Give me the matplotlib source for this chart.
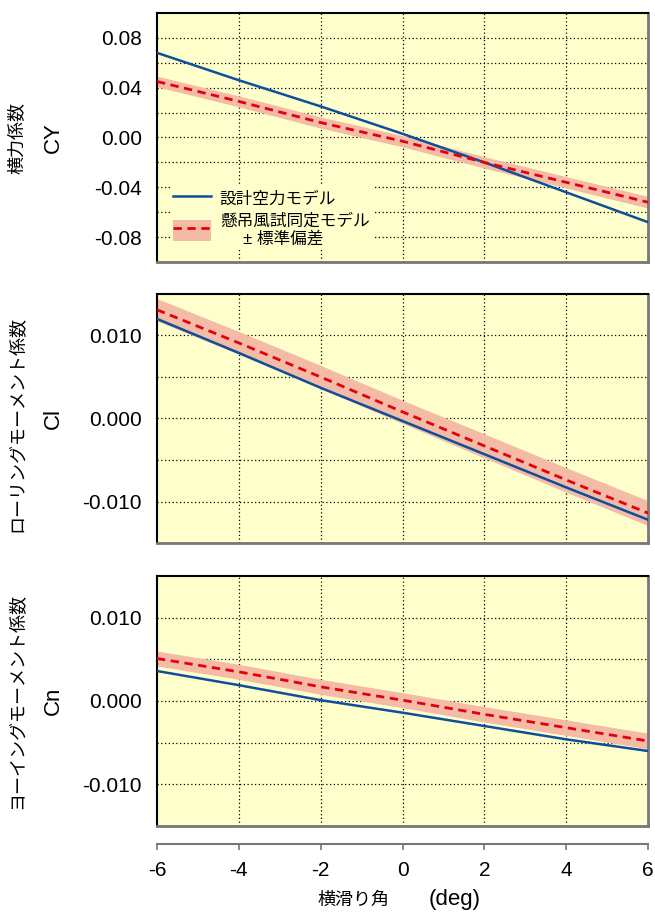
import matplotlib
matplotlib.use("Agg")
import matplotlib.pyplot as plt
from matplotlib.patches import Patch
from matplotlib.lines import Line2D
from matplotlib.legend_handler import HandlerTuple
import numpy as np

plt.rcParams['font.family'] = ['Liberation Sans', 'Noto Sans CJK JP', 'DejaVu Sans']

# sideslip angle (deg)
beta = [-6, -4, -2, 0, 2, 4, 6]
x_ticks = [-6, -4, -2, 0, 2, 4, 6]

# side-force coefficient
cy_design = [0.068, 0.046, 0.025, 0.003, -0.020, -0.044, -0.068]
cy_ident = [0.045, 0.029, 0.012, -0.003, -0.020, -0.036, -0.052]
cy_std = [0.0043, 0.0044, 0.0045, 0.0045, 0.0046, 0.0046, 0.0047]

# rolling-moment coefficient
cl_design = [0.0120, 0.0079, 0.0037, -0.0003, -0.0043, -0.0083, -0.0122]
cl_ident = [0.0131, 0.0091, 0.0050, 0.0008, -0.0033, -0.0074, -0.0114]
cl_std = [0.00135, 0.00138, 0.0014, 0.0014, 0.00145, 0.00148, 0.0015]

# yawing-moment coefficient
cn_design = [0.0036, 0.0019, 0.0001, -0.0014, -0.0030, -0.0046, -0.0060]
cn_ident = [0.0051, 0.0035, 0.0017, 0.0001, -0.0016, -0.0032, -0.0048]
cn_std = [0.0009, 0.0009, 0.0009, 0.0009, 0.00092, 0.00093, 0.00094]

panel_jp = ["横力係数", "ローリングモーメント係数", "ヨーイングモーメント係数"]
panel_sym = ["CY", "Cl", "Cn"]
legend_design = "設計空力モデル"
legend_ident = "懸吊風試同定モデル\n     ± 標準偏差"
xlabel_jp = "横滑り角"
xlabel_unit = "(deg)"

BG = "#FFFFCC"
BLUE = "#0D4F9E"
RED = "#E3000F"
BAND = "#F4BBA7"
GRAY = "#777777"

W, H = 655, 914
fig = plt.figure(figsize=(W / 100, H / 100), dpi=100)

left_px, right_px = 157, 648
panels_px = [(13, 262), (294, 543), (576, 826)]

series = [
    (cy_design, cy_ident, cy_std, (-0.1, 0.1), np.arange(-0.08, 0.081, 0.04),
     np.arange(-0.1, 0.101, 0.02), "{:.2f}"),
    (cl_design, cl_ident, cl_std, (-0.015, 0.015), [-0.010, 0.0, 0.010],
     np.arange(-0.015, 0.0151, 0.005), "{:.3f}"),
    (cn_design, cn_ident, cn_std, (-0.015, 0.015), [-0.010, 0.0, 0.010],
     np.arange(-0.015, 0.0151, 0.005), "{:.3f}"),
]

axes = []
for i, ((top, bot), (des, ide, sd, ylim, yt, ygrid, fmt)) in enumerate(zip(panels_px, series)):
    ax = fig.add_axes([left_px / W, 1 - bot / H, (right_px - left_px) / W, (bot - top) / H])
    axes.append(ax)
    ax.set_facecolor(BG)
    ide_a = np.array(ide)
    sd_a = np.array(sd)
    ax.fill_between(beta, ide_a - sd_a, ide_a + sd_a, color=BAND, lw=0, zorder=2)
    ax.plot(beta, des, color=BLUE, lw=1.8, zorder=3)
    ax.plot(beta, ide, color=RED, lw=2.0, ls=(0, (3, 2)), zorder=4)
    ax.set_xlim(-6, 6)
    ax.set_ylim(*ylim)

    # dotted grid
    for gx in x_ticks[1:-1]:
        ax.axvline(gx, color="black", lw=0.9, ls=(0, (1, 2)), zorder=1)
    for gy in ygrid[1:-1]:
        ax.axhline(gy, color="black", lw=0.9, ls=(0, (1, 2)), zorder=1)

    ax.set_yticks(yt)
    ax.set_yticklabels([("-" if v < -1e-12 else "") + fmt.format(abs(v)) for v in yt], fontsize=15)
    ax.tick_params(axis="y", length=0, pad=11)

    for s in ("left", "top"):
        ax.spines[s].set_color("black")
        ax.spines[s].set_linewidth(1.5)
    for s in ("right", "bottom"):
        ax.spines[s].set_color(GRAY)
        ax.spines[s].set_linewidth(2.0)

    ax.set_xticks(x_ticks)
    if i < 2:
        ax.tick_params(axis="x", length=0, labelbottom=False)
    else:
        ax.spines["bottom"].set_position(("outward", 13))
        ax.spines["bottom"].set_linewidth(1.5)
        ax.tick_params(axis="x", length=4, width=1.2, color=GRAY, direction="out",
                       labelsize=15, pad=8)
        ax.set_xticklabels([str(v) if v >= 0 else "-" + str(-v) for v in x_ticks])
        # frame edge at the bottom of the plotting area
        ax.add_line(Line2D([0, 1], [0, 0], transform=ax.transAxes, color=GRAY,
                           lw=2.0, clip_on=False, zorder=5))

    yc = 1 - (top + bot) / 2 / H
    fig.text(53 / W, yc, panel_sym[i], rotation=90, fontsize=16, ha="center", va="center")
    fig.text(18 / W, yc - (0.006 if i == 1 else 0), panel_jp[i], rotation=90, fontsize=13,
             ha="center", va="center")

# legend in the top panel
ax0 = axes[0]
h_design = Line2D([], [], color=BLUE, lw=1.8)
h_ident = (Patch(facecolor=BAND, edgecolor="none"),
           Line2D([], [], color=RED, lw=2.0, ls=(0, (3, 2))))
leg = ax0.legend([h_design, h_ident], [legend_design, legend_ident],
                 handler_map={tuple: HandlerTuple(ndivide=1)},
                 loc="upper left", bbox_to_anchor=(0.026, 0.31), borderaxespad=0,
                 fontsize=12, handlelength=2.3, handleheight=1.6, handletextpad=0.5,
                 labelspacing=0.2, borderpad=0.2, frameon=True, fancybox=False)
leg.get_frame().set_facecolor(BG)
leg.get_frame().set_edgecolor("none")
leg.get_frame().set_alpha(1)
leg.set_zorder(6)

fig.text(354 / W, 1 - 900 / H, xlabel_jp, fontsize=13, ha="center", va="center")
fig.text(455 / W, 1 - 900 / H, xlabel_unit, fontsize=16, ha="center", va="center")

fig.savefig("out.png", dpi=100)
